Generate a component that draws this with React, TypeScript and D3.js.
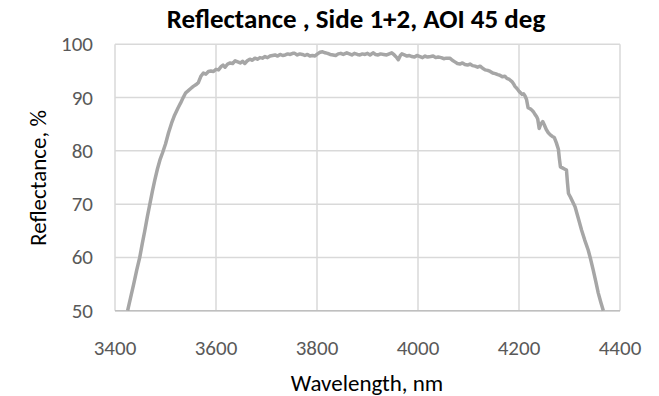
import React from "react";
import * as d3 from "d3";

const wavelengths = [
  3425, 3431, 3437, 3443, 3449, 3454, 3459, 3464, 3469, 3474, 3479, 3484, 3489, 3494, 3500, 3506, 3512, 3518, 3525, 3530,
  3535, 3540, 3544, 3550, 3555, 3560, 3565, 3570, 3575, 3580, 3585, 3590, 3595, 3600, 3605, 3610, 3614, 3618, 3623, 3628,
  3633, 3638, 3643, 3648, 3653, 3657, 3662, 3667, 3672, 3677, 3682, 3687, 3692, 3697, 3702, 3707, 3712, 3717, 3722, 3727,
  3732, 3737, 3742, 3747, 3752, 3756, 3761, 3766, 3771, 3776, 3781, 3786, 3791, 3796, 3801, 3806, 3811, 3816, 3821, 3826,
  3832, 3837, 3842, 3847, 3852, 3859, 3864, 3869, 3874, 3880, 3885, 3890, 3895, 3900, 3905, 3911, 3916, 3921, 3926, 3932,
  3938, 3943, 3948, 3953, 3958, 3961, 3965, 3968, 3973, 3978, 3983, 3988, 3993, 3998, 4004, 4009, 4014, 4019, 4025, 4030,
  4035, 4040, 4046, 4051, 4056, 4063, 4068, 4073, 4078, 4083, 4088, 4093, 4098, 4103, 4108, 4113, 4118, 4123, 4128, 4133,
  4138, 4143, 4148, 4153, 4158, 4162, 4167, 4172, 4176, 4181, 4186, 4189, 4192, 4196, 4200, 4203, 4206, 4209, 4212, 4215,
  4218, 4222, 4225, 4228, 4232, 4235, 4237, 4240, 4243, 4247, 4250, 4254, 4258, 4262, 4266, 4270, 4274, 4278, 4280, 4282,
  4286, 4290, 4294, 4296, 4298, 4302, 4306, 4311, 4317, 4324, 4330, 4337, 4342, 4347, 4352, 4357, 4362, 4367,
];

const reflectance = [
  50.0, 52.5, 55.0, 57.6, 60.0, 62.6, 65.0, 67.6, 70.0, 72.4, 74.6, 76.6, 78.3, 79.6, 81.3, 83.4, 85.2, 86.7, 88.1, 89.0,
  90.0, 90.9, 91.2, 91.7, 92.1, 92.4, 92.8, 94.0, 94.6, 94.4, 94.9, 95.0, 94.9, 95.3, 95.2, 95.8, 96.1, 95.7, 96.3, 96.5,
  96.4, 96.9, 96.7, 96.5, 96.8, 96.4, 96.9, 97.2, 97.0, 97.4, 97.2, 97.5, 97.4, 97.7, 97.5, 97.8, 97.9, 98.0, 97.8, 98.1,
  97.9, 98.0, 98.2, 98.1, 98.3, 98.3, 98.0, 98.2, 98.1, 97.9, 98.1, 97.8, 97.9, 97.8, 98.2, 98.5, 98.6, 98.4, 98.3, 98.1,
  98.0, 97.9, 98.2, 98.3, 98.1, 98.4, 98.2, 98.0, 98.3, 98.1, 98.0, 98.2, 98.1, 98.3, 98.0, 98.4, 98.1, 98.0, 98.2, 98.1,
  98.0, 98.2, 98.4, 98.0, 97.5, 97.1, 97.9, 98.2, 98.0, 97.8, 97.9, 97.7, 97.6, 97.9, 97.7, 97.5, 97.8, 97.6, 97.7, 97.8,
  97.5, 97.6, 97.5, 97.3, 97.4, 97.4, 97.0, 96.7, 96.4, 96.3, 96.5, 96.2, 96.1, 96.3, 96.0, 95.9, 95.7, 95.9, 95.5, 95.2,
  95.1, 94.9, 94.6, 94.5, 94.3, 94.2, 93.9, 94.0, 93.6, 93.4, 93.0, 92.6, 92.1, 91.7, 91.2, 90.9, 90.6, 90.7, 90.3, 89.6,
  88.1, 87.9, 87.7, 87.4, 86.8, 86.4, 86.0, 84.2, 85.0, 85.5, 84.9, 84.0, 83.4, 83.0, 82.7, 82.5, 81.5, 80.3, 78.5, 77.0,
  76.8, 76.6, 76.4, 74.0, 72.0, 71.3, 70.5, 69.5, 67.5, 65.1, 63.3, 61.4, 59.6, 57.6, 55.5, 53.3, 51.6, 50.0,
];

const xTicks = [3400, 3600, 3800, 4000, 4200, 4400];
const yTicks = [50, 60, 70, 80, 90, 100];
const title = "Reflectance , Side 1+2, AOI 45 deg";
const xTitle = "Wavelength, nm";
const yTitle = "Reflectance, %";

const W = 659;
const H = 396;
const left = 115;
const right = 620;
const top = 44.3;
const bottom = 310.7;

const FONT = "Carlito, Lato, 'Open Sans', sans-serif";

export default function App() {
  const x = d3.scaleLinear().domain([3400, 4400]).range([left, right]);
  const y = d3.scaleLinear().domain([50, 100]).range([bottom, top]);
  const data = wavelengths.map((w, i) => [w, reflectance[i]] as [number, number]);
  const line = d3
    .line<[number, number]>()
    .x((d) => x(d[0]))
    .y((d) => y(d[1]));

  return (
    <svg
      width={W}
      height={H}
      style={{ position: "absolute", left: 0, top: 0, background: "#fff" }}
    >
      <rect x={0} y={0} width={W} height={H} fill="#fff" />
      {yTicks.map((t) => (
        <line key={"gy" + t} x1={left} x2={right} y1={y(t)} y2={y(t)} stroke="#d9d9d9" strokeWidth={1.5} />
      ))}
      {xTicks.map((t) => (
        <line key={"gx" + t} x1={x(t)} x2={x(t)} y1={top} y2={bottom} stroke="#d9d9d9" strokeWidth={1.5} />
      ))}
      <line x1={left} x2={right} y1={bottom} y2={bottom} stroke="#bfbfbf" strokeWidth={1.5} />
      <path d={line(data) || ""} fill="none" stroke="#a6a6a6" strokeWidth={3.5} strokeLinejoin="round" />
      {yTicks.map((t) => (
        <text
          key={"ly" + t}
          x={93}
          y={y(t)}
          textAnchor="end"
          dominantBaseline="central"
          fontFamily={FONT}
          fontSize={21}
          fill="#595959"
        >
          {t}
        </text>
      ))}
      {xTicks.map((t) => (
        <text
          key={"lx" + t}
          x={x(t)}
          y={348}
          textAnchor="middle"
          dominantBaseline="central"
          fontFamily={FONT}
          fontSize={21}
          fill="#595959"
        >
          {t}
        </text>
      ))}
      <text x={356} y={18} textAnchor="middle" dominantBaseline="central" fontFamily={FONT} fontWeight="bold" fontSize={27} fill="#000">
        {title}
      </text>
      <text x={367} y={383} textAnchor="middle" dominantBaseline="central" fontFamily={FONT} fontSize={23} fill="#000">
        {xTitle}
      </text>
      <text
        transform={`translate(38,178) rotate(-90)`}
        textAnchor="middle"
        dominantBaseline="central"
        fontFamily={FONT}
        fontSize={23}
        fill="#000"
      >
        {yTitle}
      </text>
    </svg>
  );
}
